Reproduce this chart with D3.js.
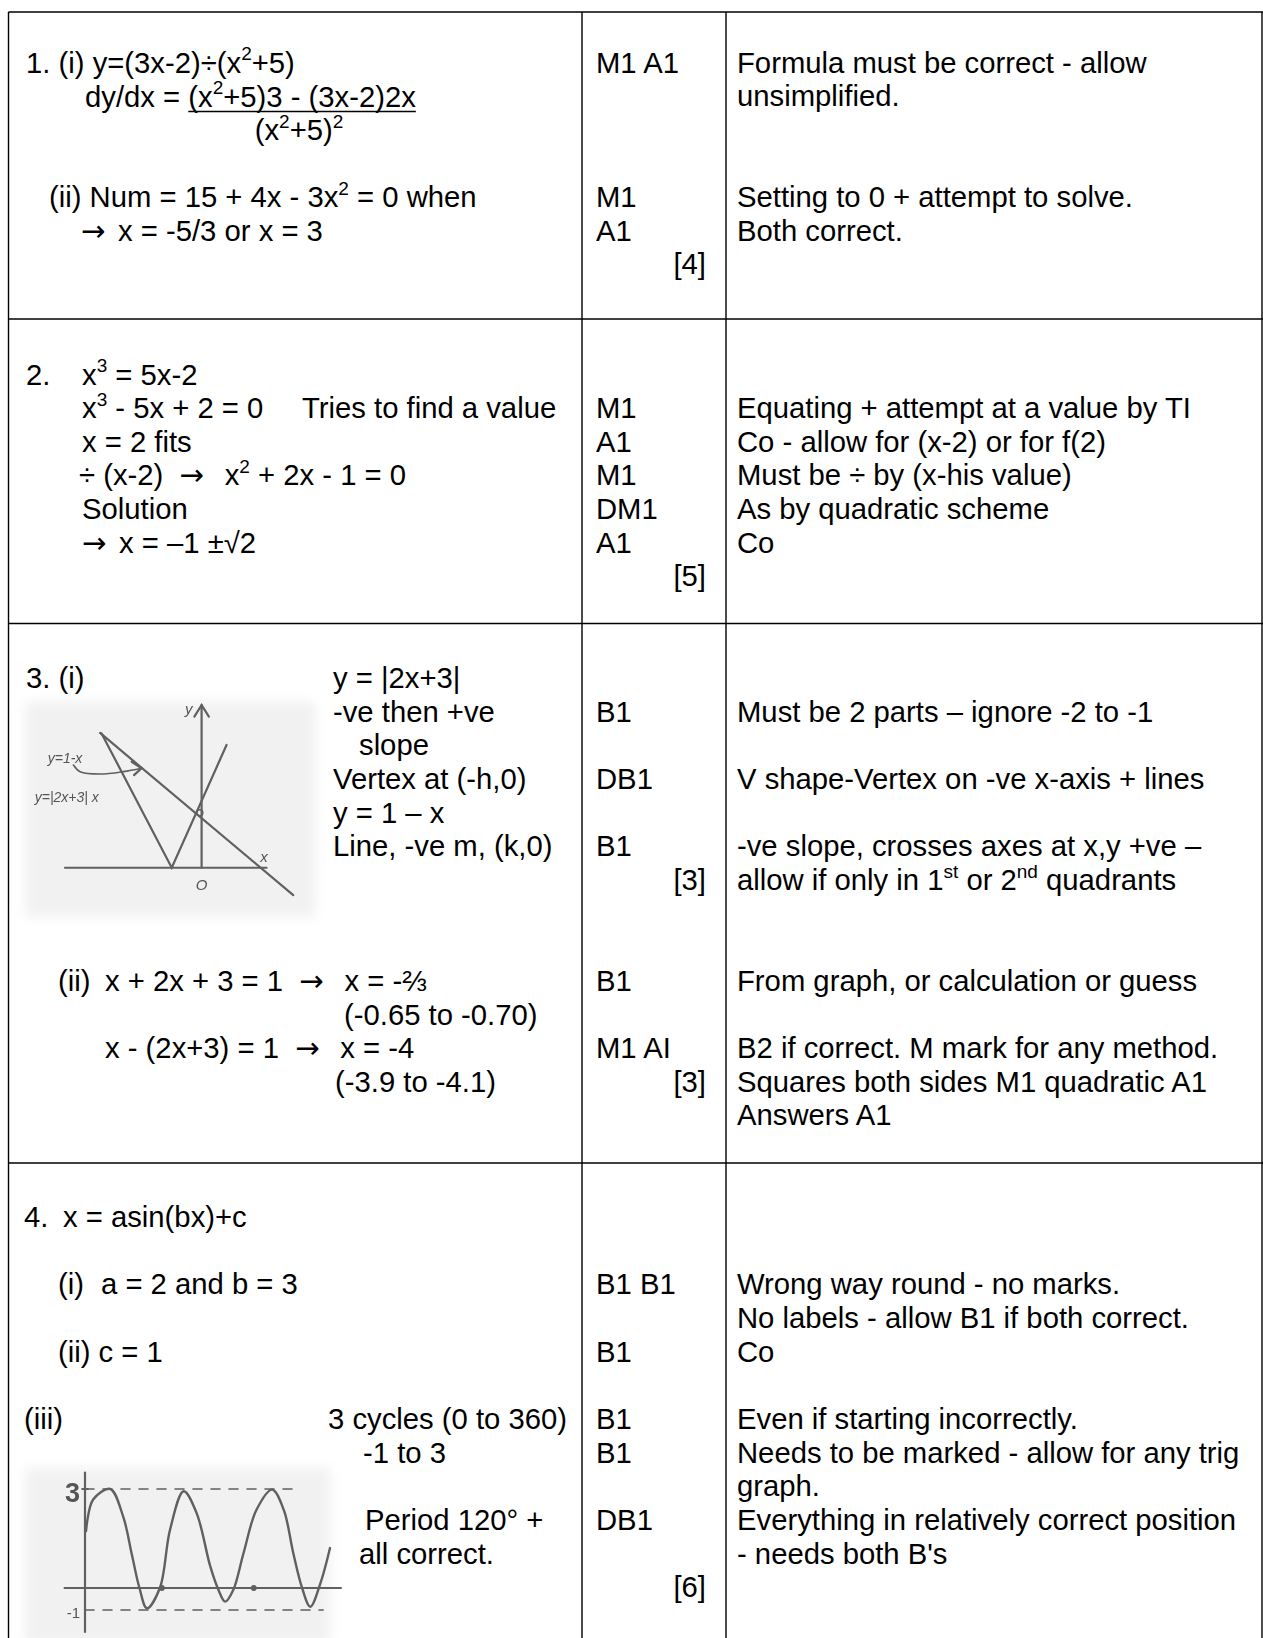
<!DOCTYPE html>
<html><head><meta charset="utf-8">
<script src="https://cdn.jsdelivr.net/npm/d3@7"></script>
<style>
body{margin:0;background:#fff}
svg{display:block}
text{font-family:"Liberation Sans",Arial,Helvetica,"DejaVu Sans",sans-serif;fill:#000;white-space:pre}
</style>
</head><body>
<svg id="c" width="1263" height="1638"></svg>
<script>
// ---------------- DATA ----------------
// answer column: [lineIndex, indentIndex, text]; ^{..} marks superscript
const q1Answer = [[0,0,"1. (i) y=(3x-2)÷(x^{2}+5)"],[4,1,"(ii) Num = 15 + 4x - 3x^{2} = 0 when"],[5,2,"→ x = -5/3 or x = 3"]];
const q1Derivative = ["dy/dx = ", "(x^{2}+5)3 - (3x-2)2x", "(x^{2}+5)^{2}"];
const q1Marks = ["M1 A1","","","","M1","A1","[4]"];
const q1Notes = ["Formula must be correct - allow","unsimplified.","","","Setting to 0 + attempt to solve.","Both correct."];

const q2Answer = [[0,0,"2."],[0,1,"x^{3} = 5x-2"],[1,1,"x^{3} - 5x + 2 = 0"],[1,2,"Tries to find a value"],[2,1,"x = 2 fits"],[3,3,"÷ (x-2)  →  x^{2} + 2x - 1 = 0"],[4,1,"Solution"],[5,1,"→ x = –1 ±√2"]];
const q2Marks = ["","M1","A1","M1","DM1","A1","[5]"];
const q2Notes = ["","Equating + attempt at a value by TI","Co - allow for (x-2) or for f(2)","Must be ÷ by (x-his value)","As by quadratic scheme","Co"];

const q3Answer = [[0,0,"3. (i)"],[0,1,"y = |2x+3|"],[1,1,"-ve then +ve"],[2,2,"slope"],[3,1,"Vertex at (-h,0)"],[4,1,"y = 1 – x"],[5,1,"Line, -ve m, (k,0)"],
  [9,3,"(ii)"],[9,4,"x + 2x + 3 = 1  →  x = -⅔"],[10,5,"(-0.65 to -0.70)"],[11,4,"x - (2x+3) = 1  →  x = -4"],[12,6,"(-3.9 to -4.1)"]];
const q3Marks = ["","B1","","DB1","","B1","[3]","","","B1","","M1 AI","[3]"];
const q3Notes = ["","Must be 2 parts – ignore -2 to -1","","V shape-Vertex on -ve x-axis + lines","","-ve slope, crosses axes at x,y +ve –","allow if only in 1^{st} or 2^{nd} quadrants","","","From graph, or calculation or guess","","B2 if correct. M mark for any method.","Squares both sides M1 quadratic A1","Answers A1"];

const q4Answer = [[0,0,"4."],[0,1,"x = asin(bx)+c"],[2,2,"(i)"],[2,3,"a = 2 and b = 3"],[4,2,"(ii) c = 1"],[6,0,"(iii)"],[6,4,"3 cycles (0 to 360)"],[7,5,"-1 to 3"],[9,6,"Period 120° +"],[10,7,"all correct."]];
const q4Marks = ["","","B1 B1","","B1","","B1","B1","","DB1","","[6]"];
const q4Notes = ["","","Wrong way round - no marks.","No labels - allow B1 if both correct.","Co","","Even if starting incorrectly.","Needs to be marked - allow for any trig","graph.","Everything in relatively correct position","- needs both B's"];

// sketch for 3(i): points, in sketch units (0-100)
const sketch1XAxis = [[13.8,22.9],[83.3,22.9]];
const sketch1YAxis = [[60.9,22.9],[60.9,98.6]];
const sketch1YArrow = [[58.4,93.2],[60.9,98.6],[63.4,93.2]];
const sketch1Modulus = [[26.4,85.4],[50.6,22.9],[69.5,80.0]];
const sketch1Line = [[25.9,85.6],[92.5,10.2]];
const sketch1Pointer = [[16.7,70.7],[19.0,67.6],[25.9,66.5],[33.9,67.6],[40.2,69.2]];
const sketch1PointerHead = [[36.8,72.2],[40.2,69.2],[37.6,66.0]];
const sketch1Labels = [["y=1-x",13.8,71.5],["y=|2x+3| x",14.4,53.5],["y",56.5,94.5],["O",60.9,12.5],["x",82.4,25.5]];

// sketch for 4(iii): hand-drawn curve, x in degrees, y in value
const sketch2Curve = [[1.5,1.72],[12,2.68],[37,3.0],[56,2.17],[69,1.0],[80,0],[91,-0.92],[110,0],[125,1.77],[145,2.93],[164,2.27],[184,0.66],[196,-0.08],[206,-0.62],[218,-0.08],[233,1.06],[252,2.37],[275,2.98],[292,2.37],[306,1.06],[319,0],[331,-0.85],[346,0.15],[360,1.21]];
const sketch2Levels = [[3,309],[-1,350]];
const sketch2AxisLabels = [["3",3],["-1",-1]];
const sketch2Marks = [113,248];

// ---------------- LAYOUT ----------------
const svg = d3.select("#c");
const FS = 29.25, LH = 33.65;
const gridX = [8.5, 582, 726, 1262];
const gridY = [12, 319, 623.5, 1163];
const firstBase = [72.5, 384.5, 688, 1227];
const markX = 596, markRight = 706, noteX = 737;
const indents = [[26,49,81],[26,82,302,79],[26,333,359,58,105,344,335],[24,63,58,101,328,363,365,359]];

function rich(t, str, fs){
  const parts = str.split(/(\^\{[^}]*\}|→)/);
  let up = false, pad = 0;
  parts.forEach(p=>{
    if(!p) return;
    const m = p.match(/^\^\{([^}]*)\}$/);
    let s;
    if(m){ t.append("tspan").attr("font-size",fs*0.65).attr("dy",-fs*0.42).text(m[1]); up=true; return; }
    if(p==="→"){ s=t.append("tspan").style("font-family","'DejaVu Sans'").style("font-weight","normal").text(p); }
    else s=t.append("tspan").text(p);
    if(up){ s.attr("dy",fs*0.42); up=false; }
    if(pad){ s.attr("dx",pad); pad=0; }
    if(p==="→") pad = fs*0.15;
  });
  return t;
}
function put(x,y,str,anchor){
  const t = svg.append("text").attr("x",x).attr("y",y).attr("font-size",FS).attr("text-anchor",anchor||"start");
  return rich(t,str,FS);
}

const answers=[q1Answer,q2Answer,q3Answer,q4Answer];
const marks=[q1Marks,q2Marks,q3Marks,q4Marks];
const notes=[q1Notes,q2Notes,q3Notes,q4Notes];

answers.forEach((rows,r)=>{
  rows.forEach(([li,ii,txt])=>put(indents[r][ii], firstBase[r]+li*LH, txt));
  marks[r].forEach((m,li)=>{ if(!m) return;
    if(m.startsWith("[")) put(markRight, firstBase[r]+li*LH, m, "end");
    else put(markX, firstBase[r]+li*LH, m); });
  notes[r].forEach((n,li)=>{ if(n) put(noteX, firstBase[r]+li*LH, n); });
});

// derivative as a fraction
const lhs = put(85, 106.5, q1Derivative[0]);
const numX = 85 + lhs.node().getComputedTextLength();
const num = put(numX, 106.5, q1Derivative[1]);
const numW = num.node().getComputedTextLength();
svg.append("line").attr("x1",numX).attr("x2",numX+numW).attr("y1",111.5).attr("y2",111.5).attr("stroke","#000").attr("stroke-width",1.6);
put(numX+numW/2-3, 140, q1Derivative[2], "middle");

// table grid
const grid = svg.append("g").attr("stroke","#000").attr("stroke-width",1.4);
gridX.forEach(x=>grid.append("line").attr("x1",x).attr("x2",x).attr("y1",gridY[0]).attr("y2",1638));
gridY.forEach(y=>grid.append("line").attr("x1",gridX[0]).attr("x2",1263).attr("y1",y).attr("y2",y));

// filters for scanned look
const defs = svg.append("defs");
defs.append("filter").attr("id","soft").attr("x","-10%").attr("y","-10%").attr("width","120%").attr("height","120%")
  .append("feGaussianBlur").attr("stdDeviation",6);
defs.append("filter").attr("id","ink").append("feGaussianBlur").attr("stdDeviation",0.75);

// ---- sketch 1 ----
const s1x = d3.scaleLinear().domain([0,100]).range([25,315]);
const s1y = d3.scaleLinear().domain([0,100]).range([917,702]);
svg.append("rect").attr("x",s1x(0)).attr("y",s1y(100)).attr("width",s1x(100)-s1x(0)).attr("height",s1y(0)-s1y(100))
  .attr("fill","#f1f1f1").attr("filter","url(#soft)");
const g1 = svg.append("g").attr("filter","url(#ink)").attr("fill","none").attr("stroke","#606060").attr("stroke-width",2.2).attr("stroke-linecap","round");
const l1 = d3.line().x(d=>s1x(d[0])).y(d=>s1y(d[1]));
[sketch1XAxis,sketch1YAxis,sketch1YArrow,sketch1Modulus,sketch1Line,sketch1PointerHead].forEach(p=>g1.append("path").attr("d",l1(p)));
g1.append("path").attr("d",l1.curve(d3.curveCatmullRom)(sketch1Pointer)).attr("stroke-width",1.6);
g1.append("circle").attr("cx",s1x(60.3)).attr("cy",s1y(48.5)).attr("r",3).attr("stroke-width",1.4);
const t1 = svg.append("g").attr("filter","url(#ink)");
sketch1Labels.forEach(([s,u,v],i)=>t1.append("text").attr("x",s1x(u)).attr("y",s1y(v)).attr("text-anchor","middle")
  .attr("font-size",i<2?14:15).attr("font-family","DejaVu Serif").attr("font-style","italic").style("fill","#555").text(s));

// ---- sketch 2 ----
const s2x = d3.scaleLinear().domain([0,360]).range([85,330]);
const s2y = d3.scaleLinear().domain([-1,0,3]).range([1610,1588,1489]);
svg.append("rect").attr("x",25).attr("y",1468).attr("width",305).attr("height",175).attr("fill","#f1f1f1").attr("filter","url(#soft)");
const g2 = svg.append("g").attr("filter","url(#ink)").attr("fill","none").attr("stroke","#606060").attr("stroke-width",2.2).attr("stroke-linecap","round");
g2.append("line").attr("x1",s2x(-30)).attr("x2",s2x(376)).attr("y1",s2y(0)).attr("y2",s2y(0));
g2.append("line").attr("x1",s2x(0)).attr("x2",s2x(0)).attr("y1",s2y(3.5)).attr("y2",s2y(-2));
sketch2Levels.forEach(([v,end])=>g2.append("line").attr("x1",s2x(0)).attr("x2",s2x(end)).attr("y1",s2y(v)).attr("y2",s2y(v))
  .attr("stroke-dasharray","9,9").attr("stroke-width",1.6));
g2.append("path").attr("d",d3.line().curve(d3.curveCatmullRom).x(d=>s2x(d[0])).y(d=>s2y(d[1]))(sketch2Curve)).attr("stroke-width",2.4);
g2.append("line").attr("x1",s2x(-4)).attr("x2",s2x(4)).attr("y1",s2y(3)).attr("y2",s2y(3));
sketch2Marks.forEach(d=>g2.append("circle").attr("cx",s2x(d)).attr("cy",s2y(0)).attr("r",1.8).attr("fill","#606060"));
const t2 = svg.append("g").attr("filter","url(#ink)");
sketch2AxisLabels.forEach(([s,v],i)=>t2.append("text").attr("x",s2x(0)-5).attr("y",s2y(v)+(i?8:13)).attr("text-anchor","end")
  .attr("font-size",i?15:27).attr("font-weight",i?"normal":"bold").attr("font-family","DejaVu Serif").style("fill","#555").text(s));
</script>
</body></html>
